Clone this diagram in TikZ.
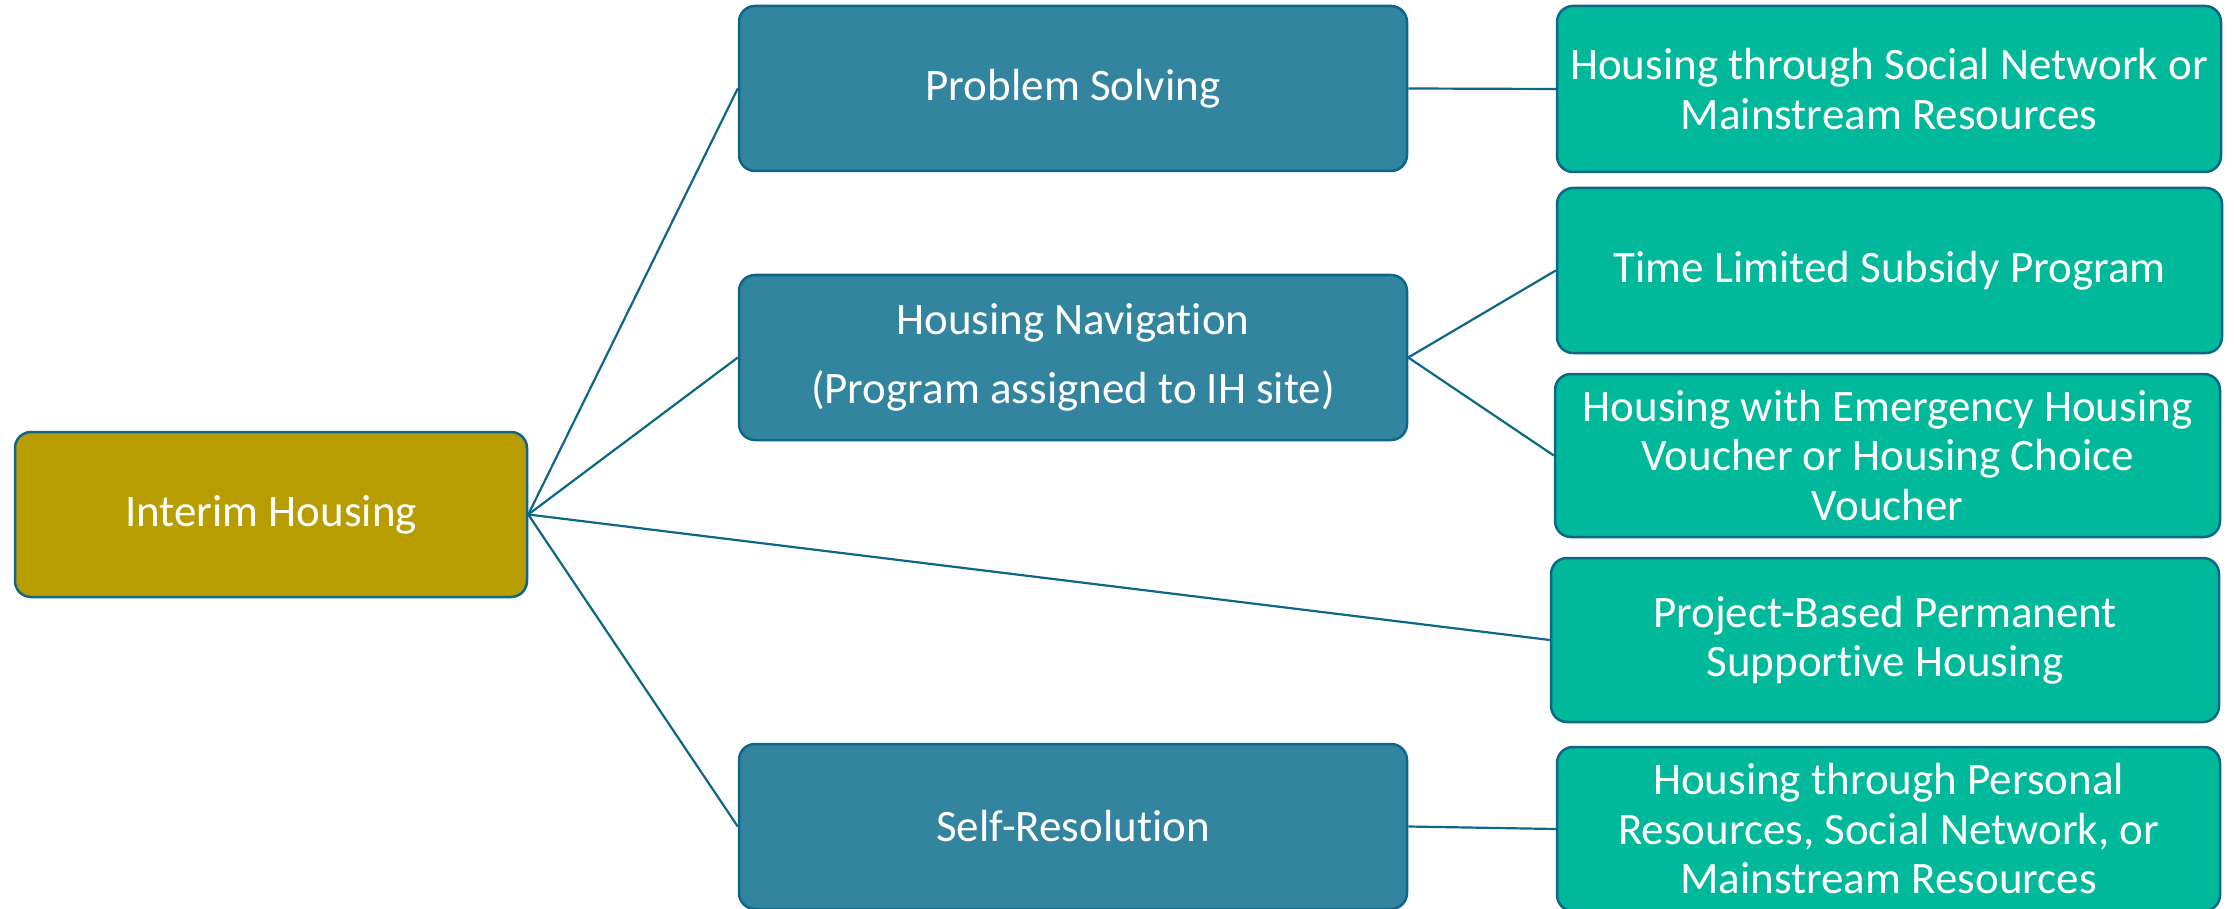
\documentclass[tikz,border=0pt]{standalone}
\usepackage{fontspec}
\setmainfont{Carlito}[Ligatures=NoCommon]
\definecolor{edgec}{RGB}{14,102,136}
\definecolor{goldc}{RGB}{184,157,0}
\definecolor{midc}{RGB}{51,132,158}
\definecolor{greenc}{RGB}{0,185,155}
\tikzset{
  box/.style={draw=edgec, line width=2.5pt, rounded corners=16pt, text=white,
    align=center, inner sep=0pt, font=\fontsize{45}{49.5}\selectfont},
  rootbox/.style={box, fill=goldc, minimum width=512pt, minimum height=165pt},
  midbox/.style={box, fill=midc, minimum width=668pt, minimum height=165pt},
  leafbox/.style={box, fill=greenc, minimum height=164pt},
  link/.style={draw=edgec, line width=2.2pt}
}
\begin{document}
\begin{tikzpicture}[x=1pt,y=-1pt]
\useasboundingbox (0,0) rectangle (2234,909);
\node[rootbox] (ih) at (271,514.5) {Interim Housing};
\node[midbox] (ps) at (1073,88.5) {Problem Solving};
\node[midbox] (hn) at (1073,357.5) {Housing Navigation\\[20pt](Program assigned to IH site)};
\node[midbox] (sr) at (1073,826.5) {Self-Resolution};
\node[leafbox, minimum width=664pt, minimum height=166pt] (soc) at (1889,89) {Housing through Social Network or\\Mainstream Resources};
\node[leafbox, minimum width=665pt, minimum height=165pt] (tl) at (1889.5,270.5) {Time Limited Subsidy Program};
\node[leafbox, minimum width=665pt, minimum height=163pt] (ehv) at (1887.5,455.5) {Housing with Emergency Housing\\Voucher or Housing Choice\\Voucher};
\node[leafbox, minimum width=668pt] (pb) at (1885,640) {Project-Based Permanent\\Supportive Housing};
\node[leafbox, minimum width=663pt] (pers) at (1888.5,829) {Housing through Personal\\Resources, Social Network, or\\Mainstream Resources};
\draw[link] (ih.east) -- (ps.west);
\draw[link] (ih.east) -- (hn.west);
\draw[link] (ih.east) -- (pb.west);
\draw[link] (ih.east) -- (sr.west);
\draw[link] (ps.east) -- (soc.west);
\draw[link] (hn.east) -- (tl.west);
\draw[link] (hn.east) -- (ehv.west);
\draw[link] (sr.east) -- (pers.west);
\end{tikzpicture}
\end{document}
